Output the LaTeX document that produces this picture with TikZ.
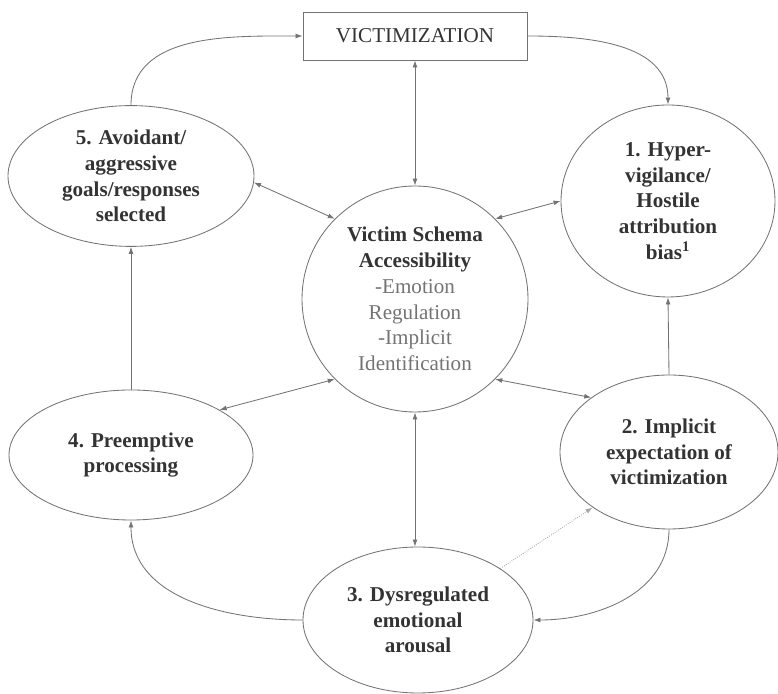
\documentclass[tikz,border=0pt]{standalone}
\usepackage{fontspec}
\setmainfont{Liberation Serif}
\usetikzlibrary{shapes.geometric,arrows.meta}
\newcommand{\lightline}[1]{{\mdseries\color{black!55}#1}}

\begin{document}
\begin{tikzpicture}[
  every node/.style={font=\fontsize{15}{18.3}\selectfont\bfseries, text=black!80, align=center},
  stage/.style={draw=black!55, line width=0.6pt, ellipse, inner sep=0pt},
  link/.style={draw=black!55, line width=0.6pt, -{Latex[length=5pt,width=3.5pt]}},
  both/.style={link, {Latex[length=5pt,width=3.5pt]}-{Latex[length=5pt,width=3.5pt]}}
]
\useasboundingbox (0,0) rectangle (19.45,17.35);

% box and schema in the middle
\node[draw=black!55, line width=0.6pt, minimum width=5.6cm, minimum height=1.2cm,
      font=\fontsize{15}{18}\selectfont] (vict) at (10.375,16.45) {VICTIMIZATION};
\node[draw=black!55, line width=0.6pt, circle, minimum size=5.65cm, inner sep=0pt]
      (schema) at (10.375,9.875)
      {Victim Schema\\Accessibility\\\lightline{-Emotion}\\\lightline{Regulation}\\
       \lightline{-Implicit}\\\lightline{Identification}};

% the five stages
\node[stage, minimum width=5.35cm, minimum height=4.8cm] (hyper) at (16.7,12.325)
      {1. Hyper-\\vigilance/\\Hostile\\attribution\\bias\textsuperscript{1}};
\node[stage, minimum width=5.45cm, minimum height=3.85cm] (expect) at (16.725,6.05)
      {2. Implicit\\expectation of\\victimization};
\node[stage, minimum width=5.75cm, minimum height=3.65cm] (arousal) at (10.45,1.85)
      {3. Dysregulated\\emotional\\arousal};
\node[stage, minimum width=6.1cm, minimum height=3.25cm] (preempt) at (3.275,5.975)
      {4. Preemptive\\processing};
\node[stage, minimum width=6.15cm, minimum height=3.52cm] (avoid) at (3.275,12.95)
      {5. Avoidant/\\aggressive\\goals/responses\\selected};

% cycle
\draw[link] (avoid.north) to[out=90, in=180] (vict.west);
\draw[link] (vict.east) to[out=0, in=90] (hyper.north);
\draw[link] (expect.north) -- (hyper.south);
\draw[link] (expect.south) to[out=-90, in=0] (arousal.east);
\draw[link] (arousal.west) to[out=180, in=-90] (preempt.south);
\draw[link] (preempt.north) -- (avoid.south);
\draw[link, draw=black!35, densely dotted] (arousal.32) -- (expect.216);

% links to the schema
\draw[both] (vict.south) -- (schema.north);
\draw[both] (schema.south) -- (schema.south |- arousal.north);
\draw[both] (avoid.-3) -- (schema.135);
\draw[both] (hyper.west) -- (schema.45);
\draw[both] (preempt.27) -- (schema.225);
\draw[both] (expect.145) -- (schema.315);
\end{tikzpicture}
\end{document}
